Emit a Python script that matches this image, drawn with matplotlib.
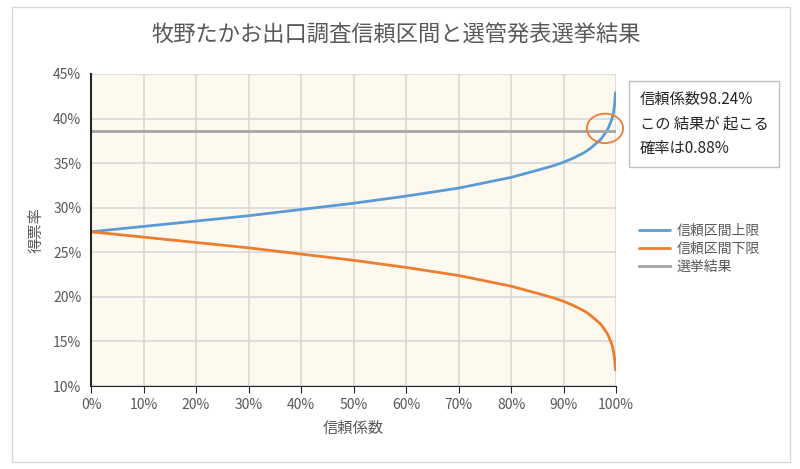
import matplotlib
matplotlib.use("Agg")
import matplotlib.pyplot as plt
from matplotlib.patches import Ellipse, Rectangle
from matplotlib.ticker import FuncFormatter

plt.rcParams['font.family'] = ['Noto Sans CJK JP', 'DejaVu Sans']

# 信頼係数 (%)
conf = [0, 10, 20, 30, 40, 50, 60, 70, 75, 80, 85, 88, 90, 92, 94, 95, 96, 97, 98, 98.5,
        99, 99.3, 99.5, 99.7, 99.8, 99.9]
# 信頼区間上限・下限 (%)
upper = [27.3, 27.9, 28.5, 29.1, 29.8, 30.5, 31.3, 32.2, 32.8, 33.4, 34.2, 34.7, 35.1,
         35.6, 36.2, 36.6, 37.1, 37.6, 38.4, 38.9, 39.6, 40.1, 40.6, 41.4, 42.0, 42.9]
lower = [27.3, 26.7, 26.1, 25.5, 24.8, 24.1, 23.3, 22.4, 21.8, 21.2, 20.4, 19.9, 19.5,
         19.0, 18.4, 18.0, 17.5, 17.0, 16.2, 15.7, 15.0, 14.5, 14.0, 13.2, 12.6, 11.8]
result = 38.6

blue = '#5B9BD5'
orange = '#ED7D31'
gray = '#A5A5A5'
text_col = '#595959'

fig = plt.figure(figsize=(8, 4.69), dpi=100)
fig.patches.append(Rectangle((12 / 800, 7 / 469), 778 / 800, 455 / 469, transform=fig.transFigure,
                             fill=False, edgecolor='#D9D9D9', linewidth=1))
ax = fig.add_axes([91 / 800, 1 - 386 / 469, 525 / 800, 312 / 469])
ax.set_facecolor('#FEF9EF')

ax.plot(conf, upper, color=blue, lw=2, label='信頼区間上限', solid_capstyle='round')
ax.plot(conf, lower, color=orange, lw=2, label='信頼区間下限', solid_capstyle='round')
ax.plot([0, 100], [result, result], color=gray, lw=2, label='選挙結果')

ax.add_patch(Ellipse((97.9, 38.9), 6.9, 3.3, fill=False, edgecolor=orange, lw=1.3,
                     clip_on=False, zorder=5))

ax.set_xlim(0, 100)
ax.set_ylim(10, 45)
ax.set_xticks(range(0, 101, 10))
ax.set_yticks(range(10, 46, 5))
ax.xaxis.set_major_formatter(FuncFormatter(lambda v, p: f'{v:.0f}%'))
ax.yaxis.set_major_formatter(FuncFormatter(lambda v, p: f'{v:.0f}%'))
ax.grid(True, color='#D9D9D9', lw=1.2)
ax.set_axisbelow(True)
for s in ['top', 'right']:
    ax.spines[s].set_visible(False)
ax.spines['left'].set_color('#262626')
ax.spines['left'].set_linewidth(1.5)
ax.spines['bottom'].set_color('#262626')
ax.tick_params(axis='x', colors=text_col, labelsize=10, length=5, direction='out')
ax.tick_params(axis='x', color='#262626')
ax.tick_params(axis='y', colors=text_col, labelsize=10, length=0, pad=7)

ax.set_xlabel('信頼係数', fontsize=11, color=text_col, labelpad=6)
ax.set_ylabel('得票率', fontsize=11, color=text_col, labelpad=6)
fig.text(0.495, 1 - 35 / 469, '牧野たかお出口調査信頼区間と選管発表選挙結果', ha='center', va='center',
         fontsize=16, color=text_col)

ax.legend(loc='upper left', bbox_to_anchor=(1.02, 0.56), frameon=False, fontsize=10,
          handlelength=2.2, handletextpad=0.5, labelspacing=0.3, labelcolor=text_col)

fig.text(640 / 800, 1 - 124 / 469, '信頼係数98.24%\nこの 結果が 起こる\n確率は0.88%', ha='left',
         va='center', fontsize=11, color='#262626', linespacing=1.55,
         bbox=dict(boxstyle='square,pad=0.7', facecolor='white', edgecolor='#BFBFBF', lw=1))

fig.savefig('out.png', dpi=100)
